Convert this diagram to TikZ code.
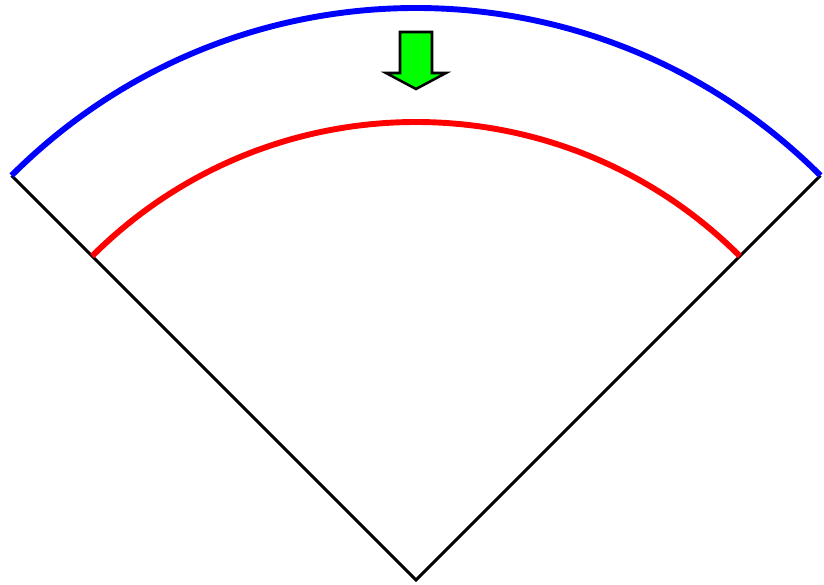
\documentclass[tikz,border=0pt]{standalone}
\usetikzlibrary{calc}

\begin{document}
\begin{tikzpicture}[
  x=0.025cm, y=0.025cm,
  edge/.style={black,line width=2.1pt},
  outerarc/.style={blue,line width=4.2pt},
  innerarc/.style={red,line width=4.2pt},
  pusharrow/.style={draw=black,fill=green,line width=1.8pt,line join=miter}
]
  \useasboundingbox (-416,-5) rectangle (408,580);
  \coordinate (o) at (0,0);
  \coordinate (ol) at (135:572);
  \coordinate (or) at (45:572);
  \coordinate (il) at (135:458);
  \coordinate (ir) at (45:458);

  \draw[edge] (ol) -- (o) -- (or);
  \draw[outerarc] (ol) arc[start angle=135,end angle=45,radius=572];
  \draw[innerarc] (il) arc[start angle=135,end angle=45,radius=458];

  \draw[pusharrow] (-16,548) -- (16,548) -- (16,507) -- (30,507) -- (0,491)
    -- (-30,507) -- (-16,507) -- cycle;
\end{tikzpicture}
\end{document}
